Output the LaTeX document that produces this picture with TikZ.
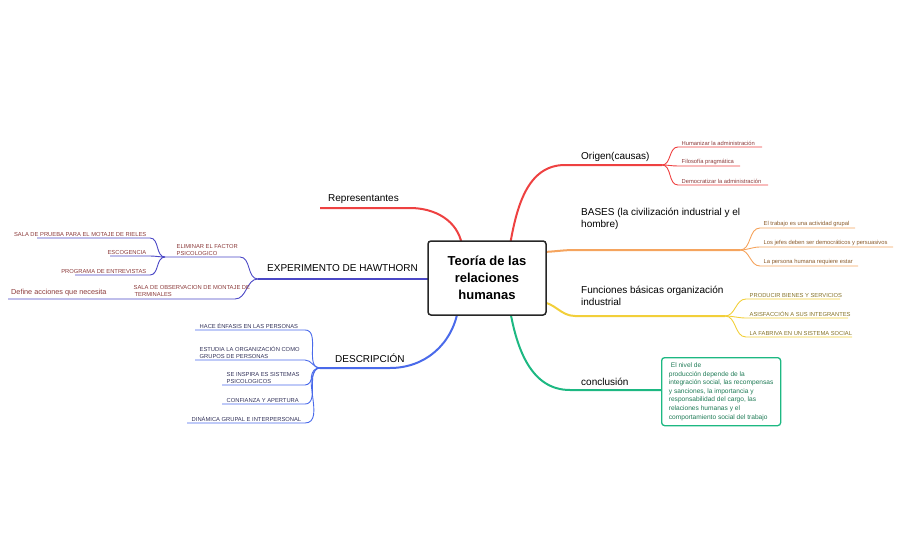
\documentclass[tikz,border=0pt]{standalone}
\usepackage{fontspec}
\setmainfont{Liberation Sans}
\begin{document}
\begin{tikzpicture}[x=1pt,y=-1pt,
 br/.style={line width=2pt},
 sb/.style={line width=0.9pt},
 main/.style={font=\fontsize{10}{12}\selectfont,anchor=south west,inner sep=1pt,align=left},
 sub/.style={font=\fontsize{5.8}{6.8}\selectfont,anchor=south west,inner sep=1.5pt,align=left}]
\useasboundingbox (0,0) rectangle (902,559);
\definecolor{cR}{HTML}{EE4141}\definecolor{cO}{HTML}{F5A45E}\definecolor{cY}{HTML}{F2CF3A}
\definecolor{cG}{HTML}{1DB882}\definecolor{cB}{HTML}{4A6AEA}\definecolor{cP}{HTML}{4B48C6}
\definecolor{tR}{HTML}{8B3A3A}\definecolor{tO}{HTML}{8A5A2A}\definecolor{tY}{HTML}{857227}\definecolor{tB}{HTML}{33335A}\definecolor{tG}{HTML}{1E7A55}
% red
\coordinate (o1) at (565,165);\coordinate (o2) at (662,165);
\draw[cR,br] (510,245) to[out=80,in=180] (o1) -- (o2);
\node[main] at (580,163) {Origen(causas)};
\foreach \y/\e/\t in {147/762/Humanizar la administración,166/740/Filosofía pragmática,185/768/Democratizar la administración}{
 \draw[cR,sb] (o2) to[out=0,in=180] (678,\y) -- (\e,\y);
 \node[sub,text=tR] at (680,\y) {\t};}
\coordinate (r1) at (410,208);
\draw[cR,br] (462,245) to[out=100,in=0] (r1) -- (320,208);
\node[main] at (327,205) {Representantes};
% orange
\coordinate (b1) at (740,250);
\draw[cO,br] (540,252) to[out=0,in=180] (575,250) -- (b1);
\node[main,anchor=north west] at (580,207) {BASES (la civilización industrial y el\\hombre)};
\foreach \y/\e/\t in {228/855/El trabajo es una actividad grupal,247/893/Los jefes deben ser democráticos y persuasivos,266/858/La persona humana requiere estar}{
 \draw[cO,sb] (b1) to[out=0,in=180] (760,\y) -- (\e,\y);
 \node[sub,text=tO] at (762,\y) {\t};}
% yellow
\coordinate (f1) at (725,316);
\draw[cY,br] (540,302) to[out=0,in=180] (575,316) -- (f1);
\node[main,anchor=north west] at (580,285) {Funciones básicas organización\\industrial};
\foreach \y/\e/\t in {299/840/PRODUCIR BIENES Y SERVICIOS,318/848/ASISFACCIÓN A SUS INTEGRANTES,337/852/LA FABRIVA EN UN SISTEMA SOCIAL}{
 \draw[cY,sb] (f1) to[out=0,in=180] (746,\y) -- (\e,\y);
 \node[sub,text=tY] at (748,\y) {\t};}
% green
\node[draw=cG,line width=1.3pt,rounded corners=3pt,anchor=north west,minimum width=119pt,minimum height=68pt,inner sep=2pt,align=left,text=tG,font=\fontsize{6.6}{8.6}\selectfont] (g) at (661,357) {\hspace*{2pt}El nivel de\\producción depende de la\\integración social, las recompensas\\y sanciones, la importancia y\\responsabilidad del cargo, las\\relaciones humanas y el\\comportamiento social del trabajo};
\draw[cG,br] (510,310) to[out=-80,in=180] (570,390) -- (g.west|-0,390);
\node[main] at (580,387) {conclusión};
% purple
\coordinate (e1) at (258,279);\coordinate (e2) at (165,257);
\draw[cP,br] (432,279) -- (e1);
\node[main] at (266,273) {EXPERIMENTO DE HAWTHORN};
\draw[cP,sb] (e1) to[out=180,in=0] (240,257) -- (e2);
\node[sub,text=tR] at (175,257) {ELIMINAR EL FACTOR\\PSICOLOGICO};
\foreach \y/\s/\t in {238/37/SALA DE PRUEBA PARA EL MOTAJE DE RIELES,256/110/ESCOGENCIA,275/75/PROGRAMA DE ENTREVISTAS}{
 \draw[cP,sb] (e2) to[out=180,in=0] (150,\y) -- (\s,\y);
 \node[sub,text=tR,anchor=south east] at (148,\y) {\t};}
\draw[cP,sb] (e1) to[out=180,in=0] (235,299) -- (8,299);
\node[sub,text=tR] at (132,298) {SALA DE OBSERVACION DE MONTAJE DE\\\hspace*{1pt}TERMINALES};
\node[main,text=tR,font=\fontsize{7.3}{9}\selectfont] at (10,297) {Define acciones que necesita};
% blue
\coordinate (d1) at (320,368);
\draw[cB,br] (458,310) to[out=-100,in=0] (390,368) -- (d1);
\node[main] at (334,364) {DESCRIPCIÓN};
\foreach \y/\s/\t in {330/195/HACE ÉNFASIS EN LAS PERSONAS,360/195/ESTUDIA LA ORGANIZACIÓN COMO\\GRUPOS DE PERSONAS,385/222/SE INSPIRA ES SISTEMAS\\PSICOLOGICOS,404/222/CONFIANZA Y APERTURA,423/187/DINÁMICA GRUPAL E INTERPERSONAL}{
 \draw[cB,sb] (d1) to[out=180,in=0] (305,\y) -- (\s,\y);
 \node[sub,text=tB] at (\s+3,\y) {\t};}
% center drawn last, on top
\node[draw=black!85,fill=white,line width=1.5pt,rounded corners=3pt,minimum width=118pt,minimum height=74pt,align=center,font=\fontsize{13}{17}\selectfont\bfseries] (c) at (487,278) {Teoría de las\\relaciones\\humanas};
\end{tikzpicture}
\end{document}
